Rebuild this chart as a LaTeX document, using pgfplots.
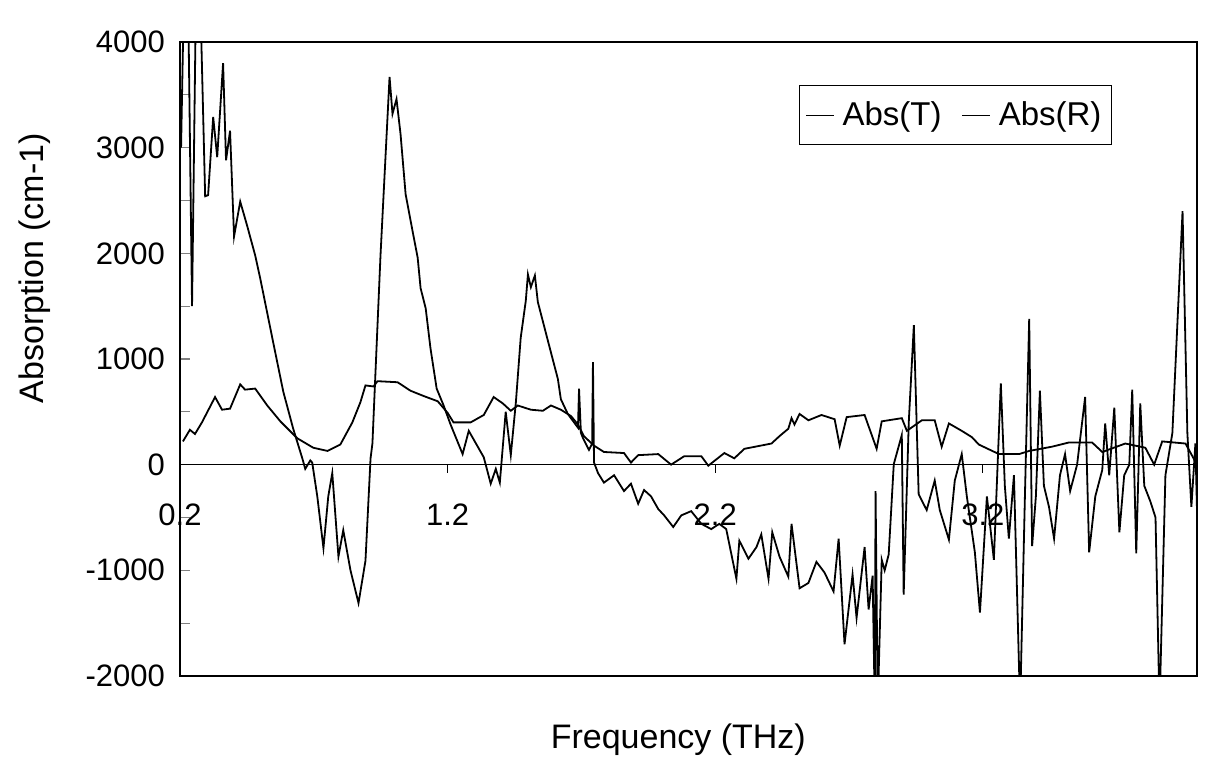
\documentclass[border=0pt]{standalone}
\usepackage{pgfplots}
\pgfplotsset{compat=1.18}
\usepackage{fontspec}
\setmainfont{Liberation Sans}

% Abs(T): the strongly oscillating curve
\pgfplotstableread{
x y
0.204 3000
0.215 4500
0.230 4500
0.245 1500
0.260 4500
0.275 4500
0.294 2540
0.305 2550
0.324 3290
0.339 2910
0.361 3800
0.372 2880
0.387 3160
0.402 2160
0.425 2490
0.451 2260
0.481 1980
0.500 1760
0.548 1160
0.586 690
0.623 340
0.657 60
0.668 -40
0.687 40
0.694 20
0.713 -300
0.736 -790
0.754 -300
0.769 -80
0.792 -870
0.810 -620
0.837 -1000
0.867 -1310
0.893 -910
0.912 60
0.919 200
0.949 1970
0.983 3670
0.994 3320
1.009 3460
1.024 3130
1.043 2560
1.069 2210
1.088 1960
1.099 1670
1.118 1480
1.136 1100
1.159 720
1.185 560
1.211 380
1.256 100
1.279 320
1.335 70
1.361 -180
1.380 -40
1.395 -170
1.417 500
1.436 90
1.455 590
1.473 1200
1.492 1550
1.500 1800
1.511 1680
1.526 1790
1.537 1540
1.578 1140
1.612 810
1.623 620
1.649 480
1.687 350
1.691 720
1.698 300
1.706 250
1.728 140
1.740 200
1.743 970
1.747 20
1.762 -80
1.784 -170
1.822 -100
1.859 -250
1.885 -180
1.912 -370
1.934 -240
1.960 -300
1.987 -420
2.009 -480
2.043 -590
2.073 -480
2.110 -440
2.148 -560
2.185 -610
2.215 -560
2.241 -610
2.279 -1080
2.290 -720
2.324 -890
2.354 -780
2.372 -660
2.399 -1080
2.413 -640
2.440 -870
2.473 -1060
2.485 -560
2.515 -1170
2.548 -1120
2.578 -920
2.608 -1020
2.642 -1200
2.661 -700
2.683 -1700
2.713 -1040
2.728 -1450
2.758 -780
2.773 -1370
2.788 -1050
2.796 -2300
2.799 -250
2.807 -2300
2.822 -900
2.833 -1000
2.848 -850
2.867 5
2.897 280
2.904 -1230
2.923 400
2.942 1320
2.960 -280
2.990 -430
3.020 -150
3.039 -430
3.073 -710
3.095 -150
3.121 100
3.140 -300
3.170 -830
3.189 -1400
3.215 -300
3.241 -900
3.267 770
3.282 -200
3.297 -700
3.316 -100
3.339 -2300
3.357 -300
3.373 1380
3.384 -770
3.398 -300
3.413 700
3.428 -200
3.447 -400
3.466 -700
3.488 -100
3.507 100
3.526 -250
3.552 0
3.582 640
3.597 -830
3.620 -300
3.646 -50
3.657 390
3.672 -100
3.691 540
3.710 -640
3.728 -100
3.747 0
3.758 710
3.773 -840
3.788 580
3.803 -200
3.826 -350
3.845 -500
3.860 -2300
3.882 -100
3.908 300
3.946 2400
3.964 300
3.979 -400
3.994 200
4.000 -430
}\absT

% Abs(R): the smoother curve
\pgfplotstableread{
x y
0.211 220
0.237 330
0.256 290
0.282 400
0.331 640
0.357 520
0.387 530
0.425 760
0.443 710
0.481 720
0.526 560
0.575 410
0.638 250
0.698 160
0.751 130
0.799 190
0.844 400
0.874 590
0.893 750
0.923 740
0.938 790
1.013 780
1.061 700
1.110 650
1.163 600
1.200 490
1.222 400
1.286 400
1.335 470
1.372 640
1.406 580
1.436 510
1.462 560
1.511 520
1.556 510
1.586 560
1.623 520
1.661 460
1.687 380
1.709 270
1.747 180
1.784 120
1.859 110
1.885 20
1.912 90
1.987 100
2.035 0
2.084 80
2.148 80
2.174 -10
2.234 110
2.271 60
2.309 150
2.410 200
2.440 270
2.473 340
2.485 440
2.496 380
2.515 480
2.548 420
2.597 470
2.646 430
2.665 180
2.691 450
2.758 470
2.803 150
2.822 410
2.897 440
2.916 320
2.972 420
3.020 420
3.046 170
3.073 390
3.121 320
3.159 260
3.185 190
3.260 100
3.335 100
3.373 130
3.458 170
3.522 210
3.608 210
3.646 120
3.732 200
3.807 160
3.840 0
3.870 220
3.957 200
4.000 0
}\absR

\begin{document}
\begin{tikzpicture}
\useasboundingbox (-90pt,-41pt) rectangle (512.5pt,338pt);
\begin{axis}[
  at={(0,0)}, anchor=south west,
  scale only axis,
  width=508.5pt, height=317pt,
  xmin=0.2, xmax=4.0,
  ymin=-2000, ymax=4000,
  axis line style={line width=0.8pt},
  xtick={0.2,1.2,2.2,3.2},
  xticklabels={0.2,1.2,2.2,3.2},
  x tick style={draw=none},
  xticklabel style={anchor=center, yshift=80.7pt, font=\fontsize{15.5}{18}\selectfont},
  ytick={-2000,-1000,0,1000,2000,3000,4000},
  yticklabels={-2000,-1000,0,1000,2000,3000,4000},
  minor y tick num=1,
  ytick pos=left,
  tick align=inside,
  major tick length=5pt, minor tick length=5pt,
  y tick style={line width=0.6pt},
  yticklabel style={xshift=-4pt, font=\fontsize{15.5}{18}\selectfont},
  xlabel={Frequency (THz)},
  ylabel={Absorption (cm-1)},
  every axis x label/.style={at={(rel axis cs:0.49,0)}, anchor=center, yshift=-32pt, font=\fontsize{17}{20}\selectfont},
  every axis y label/.style={at={(rel axis cs:0,0.643)}, xshift=-72.5pt, rotate=90, anchor=center, font=\fontsize{17}{20}\selectfont},
  legend columns=2,
  legend style={at={(rel axis cs:0.9165,0.932)}, anchor=north east, draw=black, line width=0.6pt,
    font=\fontsize{16.5}{19}\selectfont, inner xsep=3pt, inner ysep=6pt,
    /tikz/every odd column/.append style={column sep=2pt},
    /tikz/every even column/.append style={column sep=8pt}},
  legend image code/.code={\draw[line width=0.6pt] (0pt,0pt) -- (14pt,0pt);},
  legend cell align=left,
]
\addplot[black, line width=0.9pt] table {\absT};
\addlegendentry{Abs(T)}
\addplot[black, line width=0.9pt] table {\absR};
\addlegendentry{Abs(R)}
\draw[line width=0.8pt] (axis cs:0.2,0) -- (axis cs:4.0,0);
\draw[line width=0.6pt] (axis cs:1.2,0) -- (axis cs:1.2,-80);
\draw[line width=0.6pt] (axis cs:2.2,0) -- (axis cs:2.2,-80);
\draw[line width=0.6pt] (axis cs:3.2,0) -- (axis cs:3.2,-80);
\end{axis}
\end{tikzpicture}
\end{document}
